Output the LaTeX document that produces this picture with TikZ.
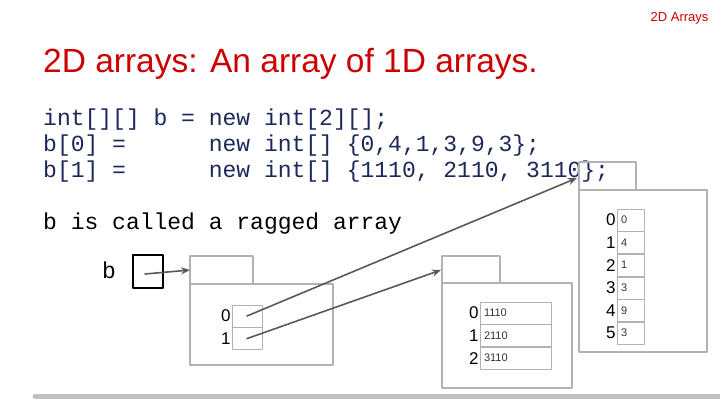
\documentclass[tikz,border=0pt]{standalone}
\usepackage{fontspec}
\setmainfont{Liberation Sans}
\setmonofont{Liberation Mono}
\usetikzlibrary{arrows.meta, positioning}
\definecolor{titlered}{RGB}{204, 0, 0}
\definecolor{codeblue}{RGB}{28, 40, 90}
\definecolor{boxgray}{RGB}{178, 178, 178}
\definecolor{ptrgray}{RGB}{89, 89, 89}

\begin{document}
\begin{tikzpicture}[x=1pt, y=-1pt, >={Stealth[length=9pt, width=7pt]}, line cap=round, line join=round,
  objbox/.style={draw=boxgray, line width=2pt},
  cell/.style={draw=boxgray, line width=0.6pt, minimum height=22pt, inner sep=0pt, font=\fontsize{11}{11}\selectfont, text=black!80},
  idx/.style={anchor=east, font=\fontsize{17}{17}\selectfont, inner sep=1pt},
  ptr/.style={->, ptrgray, line width=1.6pt},
  codeline/.style={anchor=base west, inner sep=0pt, font=\ttfamily\fontsize{23}{23}\selectfont, text=codeblue}]

  \useasboundingbox (0,0) rectangle (720,405);

  % Header
  \node[anchor=east, titlered, font=\fontsize{13}{13}\selectfont] (tag) at (712,18) {2D Arrays};
  \node[anchor=base west, titlered, inner sep=0pt, font=\fontsize{33.5}{33.5}\selectfont] (title) at (43,72) {2D arrays: An array of 1D arrays.};

  % Code
  \node[codeline] (c1) at (43,125) {int[][] b = new int[2][];};
  \node[codeline] (c2) at (43,151) {b[0] =\ \ \ \ \ \ new int[] \{0,4,1,3,9,3\};};
  \node[codeline] (c3) at (43,177) {b[1] =\ \ \ \ \ \ new int[] \{1110, 2110, 3110\};};
  \node[codeline, text=black] (rag) at (43,229) {b is called a ragged array};

  % Bottom bar
  \draw[boxgray!80, line width=5pt] (35,396) -- (720,396);

  % Variable b
  \node[codeline, text=black] (bname) at (102,278) {b};
  \draw[black, line width=2.5pt] (133,255) rectangle (163,288);
  \coordinate (bdot) at (145,274);

  % Outer array object
  \draw[objbox] (190,256) rectangle (253,284);
  \draw[objbox] (190,284) rectangle (333,365);
  \coordinate (tabA) at (190,270);
  \node[cell, minimum width=30pt] (a0) at (247,316) {};
  \node[cell, minimum width=30pt, below=0pt of a0] (a1) {};
  \node[idx] at (a0.west) {0};
  \node[idx] at (a1.west) {1};

  % Row b[1]
  \draw[objbox] (442,256) rectangle (500,283);
  \draw[objbox] (442,283) rectangle (572,388);
  \coordinate (tabB) at (441,270);
  \node[cell, minimum width=71pt, text width=63pt] (r0) at (515.5,313) {1110};
  \node[cell, minimum width=71pt, text width=63pt, below=0pt of r0] (r1) {2110};
  \node[cell, minimum width=71pt, text width=63pt, below=0pt of r1] (r2) {3110};
  \foreach \i in {0,1,2} \node[idx] at (r\i.west) {\i};

  % Row b[0]
  \draw[objbox] (579,162) rectangle (636,190);
  \draw[objbox] (579,190) rectangle (707,352);
  \coordinate (tabC) at (577,178);
  \node[cell, minimum width=27pt, text width=19pt] (s0) at (630.5,220) {0};
  \node[cell, minimum width=27pt, text width=19pt, below=0pt of s0] (s1) {4};
  \node[cell, minimum width=27pt, text width=19pt, below=0pt of s1] (s2) {1};
  \node[cell, minimum width=27pt, text width=19pt, below=0pt of s2] (s3) {3};
  \node[cell, minimum width=27pt, text width=19pt, below=0pt of s3] (s4) {9};
  \node[cell, minimum width=27pt, text width=19pt, below=0pt of s4] (s5) {3};
  \foreach \i in {0,...,5} \node[idx] at (s\i.west) {\i};

  % References
  \draw[ptr] (bdot) -- (tabA);
  \draw[ptr] (a0.center) -- (tabC);
  \draw[ptr] (a1.center) -- (tabB);

\end{tikzpicture}
\end{document}
